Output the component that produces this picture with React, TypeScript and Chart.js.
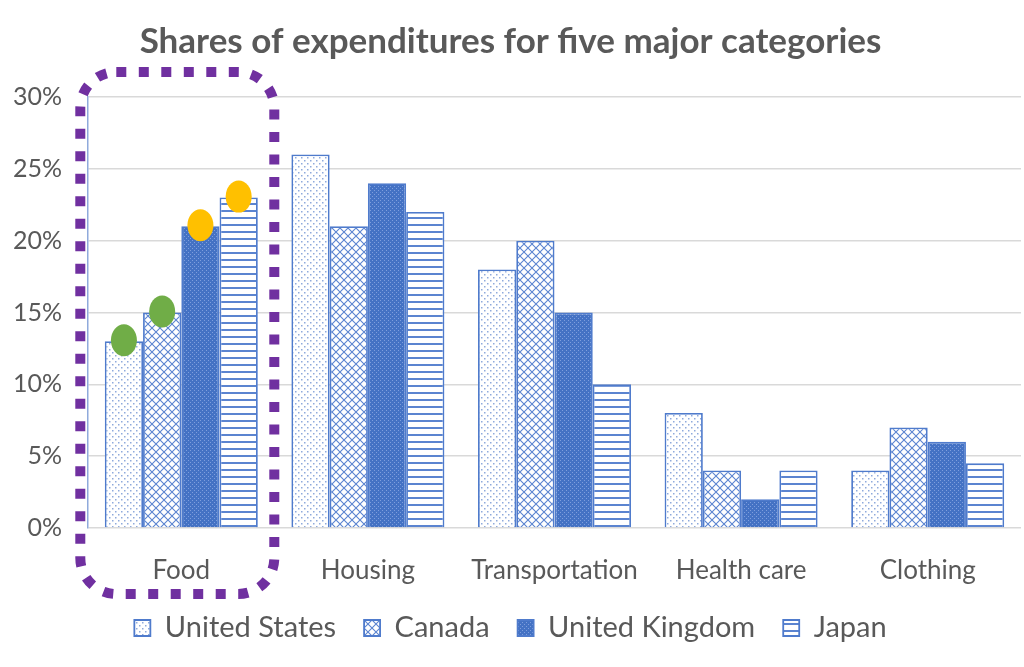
import React, { useEffect, useRef } from "react";
import { Chart, registerables } from "chart.js";

Chart.register(...registerables);

const categories = ["Food", "Housing", "Transportation", "Health care", "Clothing"];
const seriesNames = ["United States", "Canada", "United Kingdom", "Japan"];
const usValues = [13, 26, 18, 8, 4];
const canadaValues = [15, 21, 20, 4, 7];
const ukValues = [21, 24, 15, 2, 6];
const japanValues = [23, 22, 10, 4, 4.5];
const highlightColors = ["#70AD47", "#70AD47", "#FFC000", "#FFC000"];

const FONT = "Lato, 'Open Sans', sans-serif";
const BLUE = "#4472C4";

function makePattern(kind: string): CanvasPattern | string {
  const c = document.createElement("canvas");
  const g = c.getContext("2d")!;
  if (kind === "dots") {
    c.width = 6; c.height = 6;
    g.fillStyle = "#ffffff"; g.fillRect(0, 0, 6, 6);
    g.fillStyle = "#8FAADC";
    g.fillRect(1, 1, 1.5, 1.5);
    g.fillRect(4, 4, 1.5, 1.5);
  } else if (kind === "cross") {
    c.width = 8; c.height = 8;
    g.fillStyle = "#ffffff"; g.fillRect(0, 0, 8, 8);
    g.strokeStyle = "#5B84D0"; g.lineWidth = 1.1;
    g.beginPath();
    g.moveTo(-1, -1); g.lineTo(9, 9);
    g.moveTo(9, -1); g.lineTo(-1, 9);
    g.stroke();
  } else if (kind === "check") {
    c.width = 4; c.height = 4;
    g.fillStyle = BLUE; g.fillRect(0, 0, 4, 4);
    g.fillStyle = "#7E9EDD";
    g.fillRect(0, 0, 1, 1);
    g.fillRect(2, 2, 1, 1);
  } else {
    c.width = 4; c.height = 7;
    g.fillStyle = "#ffffff"; g.fillRect(0, 0, 4, 7);
    g.fillStyle = "#5B84D0"; g.fillRect(0, 0, 4, 2);
  }
  const p = g.createPattern(c, "repeat");
  return p || "#ffffff";
}

const overlayPlugin = {
  id: "overlay",
  afterDatasetsDraw(chart: any) {
    const ctx = chart.ctx;
    ctx.save();
    for (let i = 0; i < 4; i++) {
      const el = chart.getDatasetMeta(i).data[0];
      ctx.beginPath();
      ctx.ellipse(el.x, el.y - 1, 13, 16, 0, 0, Math.PI * 2);
      ctx.fillStyle = highlightColors[i];
      ctx.fill();
    }
    ctx.restore();
  },
  afterDraw(chart: any) {
    const ctx = chart.ctx;
    const xs = chart.scales.x;
    const area = chart.chartArea;
    const cx = xs.getPixelForValue(0);
    const left = cx - 101;
    const right = cx + 93;
    const top = area.top - 25;
    const bottom = area.bottom + 66;
    const r = 36;
    ctx.save();
    ctx.strokeStyle = "#7030A0";
    ctx.lineWidth = 10;
    ctx.setLineDash([10, 12.5]);
    ctx.beginPath();
    ctx.roundRect(left, top, right - left, bottom - top, r);
    ctx.stroke();
    ctx.restore();
  },
};

export default function App() {
  const ref = useRef<HTMLCanvasElement>(null);
  useEffect(() => {
    const patterns = [makePattern("dots"), makePattern("cross"), makePattern("check"), makePattern("lines")];
    const values = [usValues, canadaValues, ukValues, japanValues];
    const chart = new Chart(ref.current!, {
      type: "bar",
      data: {
        labels: categories,
        datasets: seriesNames.map((name, i) => ({
          label: name,
          data: values[i],
          backgroundColor: patterns[i] as any,
          borderColor: "#4F7BCC",
          borderWidth: 1.8,
          barPercentage: 1,
          categoryPercentage: 0.82,
        })),
      },
      options: {
        responsive: false,
        animation: false,
        layout: { padding: { left: 0, right: 3, top: 0, bottom: 14.5 } },
        plugins: {
          title: {
            display: true,
            text: "Shares of expenditures for five major categories",
            color: "#595959",
            font: { family: FONT, size: 35, weight: "bold" },
            padding: { top: 21, bottom: 34 },
          },
          legend: {
            position: "bottom",
            labels: {
              color: "#595959",
              font: { family: FONT, size: 29 },
              boxWidth: 16,
              boxHeight: 16,
              padding: 28,
            },
          },
          tooltip: { enabled: false },
        },
        scales: {
          x: {
            grid: { display: false, drawTicks: false },
            border: { display: false },
            ticks: { color: "#595959", font: { family: FONT, size: 26 }, padding: 27 },
            afterFit: (s: any) => { s.height = 57.5; },
          },
          y: {
            min: 0,
            max: 30,
            ticks: {
              stepSize: 5,
              color: "#595959",
              font: { family: FONT, size: 25 },
              padding: 26,
              callback: (v: any) => `${v}%`,
            },
            grid: { color: "#D9D9D9", lineWidth: 1.5, drawTicks: false },
            border: { display: true, color: "#8FAADC", width: 1.5 },
            afterFit: (s: any) => { s.width = 88; },
          },
        },
      },
      plugins: [overlayPlugin],
    });
    return () => chart.destroy();
  }, []);
  return (
    <div style={{ position: "fixed", left: 0, top: 0, width: 1024, height: 667, background: "#ffffff" }}>
      <canvas ref={ref} width={1024} height={667} />
    </div>
  );
}
